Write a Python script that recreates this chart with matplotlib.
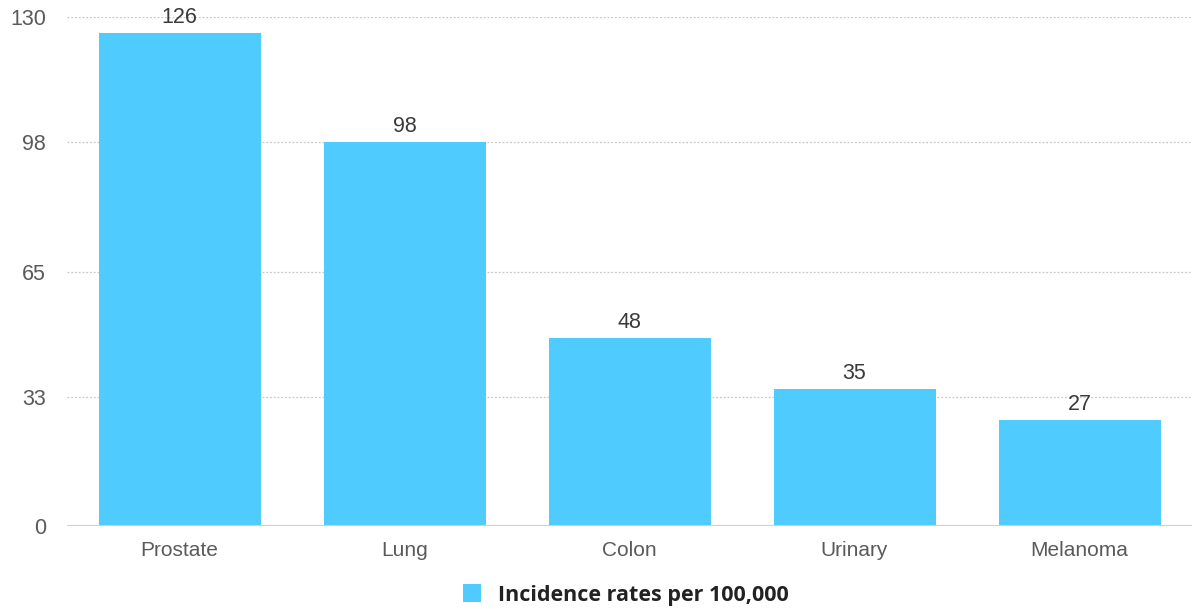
import matplotlib
matplotlib.use("Agg")
import matplotlib.pyplot as plt
from matplotlib.patches import Patch

# incidence per 100,000 by cancer site
categories = ["Prostate", "Lung", "Colon", "Urinary", "Melanoma"]
rates = [126, 98, 48, 35, 27]
y_ticks = [0, 33, 65, 98, 130]
series_name = "Incidence rates per 100,000"

bar_color = "#4fcbfe"

fig = plt.figure(figsize=(11.98, 6.09), dpi=100)
ax = fig.add_axes([67 / 1198, 83 / 609, 1125 / 1198, 509 / 609])

x = range(len(categories))
bars = ax.bar(x, rates, width=0.72, color=bar_color, zorder=2)

for b, v in zip(bars, rates):
    ax.text(b.get_x() + b.get_width() / 2, v + 1.3, str(v), ha="center", va="bottom",
            fontsize=15.5, color="#3a3a3a", family="Liberation Sans", zorder=3)

ax.set_xlim(-0.5, len(categories) - 0.5)
ax.set_ylim(0, 130)
ax.set_yticks(y_ticks)
ax.set_yticklabels([str(t) for t in y_ticks], family="Liberation Sans", fontsize=15.5, color="#5a5a5a")
ax.set_xticks(list(x))
ax.set_xticklabels(categories, family="Liberation Sans", fontsize=15, color="#5a5a5a")
ax.tick_params(axis="both", length=0)
ax.tick_params(axis="y", pad=15)
ax.tick_params(axis="x", pad=11)

# dotted gridlines, solid baseline
for t in y_ticks[1:]:
    ax.axhline(t, color="#c8c8c8", linestyle=(0, (1.5, 1.5)), linewidth=0.9, zorder=1)
ax.axhline(0, color="#d0d0d0", linewidth=1.5, zorder=3)

for s in ax.spines.values():
    s.set_visible(False)

handle = Patch(facecolor=bar_color, edgecolor="none")
leg = fig.legend([handle], [series_name], loc="center",
                 bbox_to_anchor=(626 / 1198, 1 - 595 / 609), frameon=False,
                 handlelength=0.85, handleheight=0.85, handletextpad=0.8,
                 prop={"family": "Open Sans", "weight": "bold", "size": 15.5})
for t in leg.get_texts():
    t.set_color("#222222")

fig.savefig("out.png", dpi=100, facecolor="white")
